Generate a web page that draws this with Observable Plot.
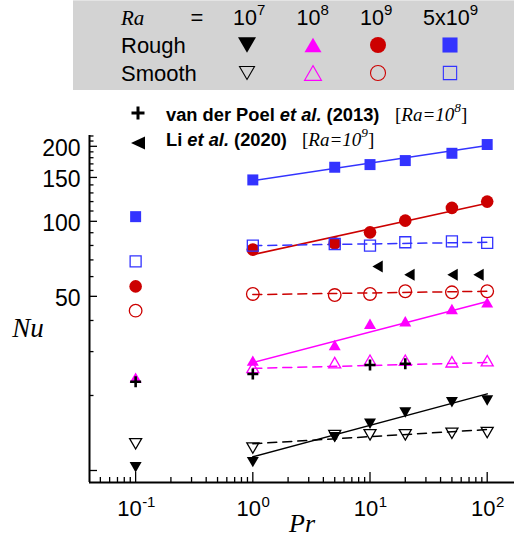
<!DOCTYPE html>
<html><head><meta charset="utf-8">
<script src="https://cdn.jsdelivr.net/npm/d3@7"></script>
<script src="https://cdn.jsdelivr.net/npm/@observablehq/plot@0.6"></script>
<style>
html,body{margin:0;padding:0;background:#fff;}
#wrap{position:relative;width:514px;height:541px;overflow:hidden;}
#wrap svg{position:absolute;left:0;top:0;}
</style></head><body><div id="wrap"></div>
<script>
// ---------------- data ----------------
const prSweep = [1, 5, 10, 20, 50, 100];
const prLow = 0.1;
const raNames = ["1e7", "1e8", "1e9", "5e9"];

const nuRoughRa1e7 = [10.8, 13.6, 15.4, 17.1, 18.8, 19.1];
const nuSmoothRa1e7 = [12.3, 13.8, 13.9, 13.9, 14.1, 14.2];
const nuRoughRa1e8 = [27.6, 31.9, 38.8, 39.7, 44.5, 47.3];
const nuSmoothRa1e8 = [25.9, 27.1, 27.7, 27.7, 27.3, 27.6];
const nuRoughRa1e9 = [77.0, 81.6, 90.3, 100.6, 113.2, 120.0];
const nuSmoothRa1e9 = [51.1, 50.6, 51.1, 52.4, 51.9, 52.4];
const nuRoughRa5e9 = [146.6, 164.8, 168.9, 175.3, 187.5, 203.3];
const nuSmoothRa5e9 = [79.9, 81.1, 79.9, 82.4, 83.1, 81.9];

// Pr = 0.1 points, in Ra order (1e7, 1e8, 1e9, 5e9)
const nuRoughLowPr = [10.3, 23.6, 54.8, 104.4];
const nuSmoothLowPr = [12.8, null, 43.8, 69.1];

// power-law fits, values at Pr = 1 and Pr = 100
const fitPr = [1, 100];
const fitRoughRa1e7 = [11.35, 20.3];
const fitSmoothRa1e7 = [12.8, 14.6];
const fitRoughRa1e8 = [27.1, 47.7];
const fitSmoothRa1e8 = [25.7, 27.1];
const fitRoughRa1e9 = [73.5, 118.1];
const fitSmoothRa1e9 = [50.8, 52.4];
const fitRoughRa5e9 = [145.7, 201.5];
const fitSmoothRa5e9 = [79.9, 82.4];

// literature data
const poelPr = [0.1, 1, 10, 20];
const poelNu = [22.7, 24.4, 26.5, 26.8];
const liPr = [11.6, 21.7, 50.6, 84.3];
const liNu = [65.8, 61.1, 61.1, 61.1];

// ticks
const xMajorTicks = [0.1, 1, 10, 100];
const xExponents = ["-1", "0", "1", "2"];
const xMinorTicks = [0.05,0.06,0.07,0.08,0.09, 0.2,0.3,0.4,0.5,0.6,0.7,0.8,0.9, 2,3,4,5,6,7,8,9, 20,30,40,50,60,70,80,90];
const yLabelTicks = [50, 100, 150, 200];
const yMajorTicks = [10, 50, 100, 150, 200];
const yMinorTicks = [20,30,40,60,70,80,90,110,120,130,140,160,170,180,190,210,220];

// ---------------- styling ----------------
const sans = "'Liberation Sans', Arial, Helvetica, sans-serif";
const serif = "'Liberation Serif', 'Times New Roman', serif";
const colors = {"1e7": "#000000", "1e8": "#ff00ff", "1e9": "#cc0000", "5e9": "#3333ff"};

const S3 = Math.sqrt(3);
function triSym(dir) { // bbox-centred equilateral triangle, half-width r
  return {draw(ctx, size) {
    const r = Math.sqrt(size / Math.PI), s = 2 * r, h = s * S3 / 2;
    if (dir === "up") { ctx.moveTo(0, -h/2); ctx.lineTo(s/2, h/2); ctx.lineTo(-s/2, h/2); }
    else if (dir === "down") { ctx.moveTo(0, h/2); ctx.lineTo(s/2, -h/2); ctx.lineTo(-s/2, -h/2); }
    else { ctx.moveTo(-h/2, 0); ctx.lineTo(h/2, -s/2); ctx.lineTo(h/2, s/2); }
    ctx.closePath();
  }};
}
const plusSym = {draw(ctx, size) { const r = Math.sqrt(size / Math.PI); ctx.moveTo(-r, 0); ctx.lineTo(r, 0); ctx.moveTo(0, -r); ctx.lineTo(0, r); }};
const triDown = triSym("down"), triUp = triSym("up"), triLeft = triSym("left");

const series = [
  {ra: "1e7", rough: nuRoughRa1e7, smooth: nuSmoothRa1e7, fitR: fitRoughRa1e7, fitS: fitSmoothRa1e7, sym: triDown, r: 6},
  {ra: "1e8", rough: nuRoughRa1e8, smooth: nuSmoothRa1e8, fitR: fitRoughRa1e8, fitS: fitSmoothRa1e8, sym: triUp, r: 6},
  {ra: "1e9", rough: nuRoughRa1e9, smooth: nuSmoothRa1e9, fitR: fitRoughRa1e9, fitS: fitSmoothRa1e9, sym: "circle", r: 6.3},
  {ra: "5e9", rough: nuRoughRa5e9, smooth: nuSmoothRa5e9, fitR: fitRoughRa5e9, fitS: fitSmoothRa5e9, sym: "square", r: 6.2}
];

// ---------------- plot ----------------
const W = 514, H = 541, mL = 89, mR = 0, mT = 135, mB = 59;
const plotW = W - mL - mR, plotH = H - mT - mB;
const xDomain = [0.0404, 171], yDomain = [8.95, 221];

const marks = [];
for (const s of series) {
  const c = colors[s.ra];
  marks.push(Plot.line(fitPr.map((p, i) => ({Pr: p, Nu: s.fitR[i]})), {x: "Pr", y: "Nu", stroke: c, strokeWidth: 1.5}));
  marks.push(Plot.line(fitPr.map((p, i) => ({Pr: p, Nu: s.fitS[i]})), {x: "Pr", y: "Nu", stroke: c, strokeWidth: 1.5, strokeDasharray: "9,6"}));
}
series.forEach((s, k) => {
  const c = colors[s.ra];
  const rough = prSweep.map((p, i) => ({Pr: p, Nu: s.rough[i]}));
  rough.push({Pr: prLow, Nu: nuRoughLowPr[k]});
  const smooth = prSweep.map((p, i) => ({Pr: p, Nu: s.smooth[i]}));
  if (nuSmoothLowPr[k] != null) smooth.push({Pr: prLow, Nu: nuSmoothLowPr[k]});
  marks.push(Plot.dot(rough, {x: "Pr", y: "Nu", symbol: s.sym, r: s.r, fill: c}));
  marks.push(Plot.dot(smooth, {x: "Pr", y: "Nu", symbol: s.sym, r: s.r, fill: "none", stroke: c, strokeWidth: 1.3}));
});
marks.push(Plot.dot(poelPr.map((p, i) => ({Pr: p, Nu: poelNu[i]})), {x: "Pr", y: "Nu", symbol: plusSym, r: 5.5, stroke: "black", strokeWidth: 2.6, fill: "none"}));
marks.push(Plot.dot(liPr.map((p, i) => ({Pr: p, Nu: liNu[i]})), {x: "Pr", y: "Nu", symbol: triLeft, r: 6, fill: "black"}));

// axes (inward ticks)
marks.push(Plot.tickY(yMajorTicks, {y: d => d, insetRight: plotW - 8, stroke: "black", strokeWidth: 1.3}));
marks.push(Plot.tickY(yMinorTicks, {y: d => d, insetRight: plotW - 4.5, stroke: "black", strokeWidth: 1.3}));
marks.push(Plot.tickX(xMajorTicks, {x: d => d, insetTop: plotH - 10, stroke: "black", strokeWidth: 1.3}));
marks.push(Plot.tickX(xMinorTicks, {x: d => d, insetTop: plotH - 5, stroke: "black", strokeWidth: 1.3}));
marks.push(Plot.ruleX([xDomain[0]], {stroke: "black", strokeWidth: 2}));
marks.push(Plot.ruleY([yDomain[0]], {stroke: "black", strokeWidth: 2}));
marks.push(Plot.text(yLabelTicks, {y: d => d, text: d => String(d), frameAnchor: "left", textAnchor: "end", dx: -9, dy: 2, fontSize: 23, fontFamily: sans, fill: "black"}));
xMajorTicks.forEach((t, i) => {
  const e = xExponents[i];
  const baseW = 24.5, expW = e.length > 1 ? 12.5 : 8;
  const endOff = (baseW + expW) / 2 - expW;
  marks.push(Plot.text([t], {x: d => d, text: () => "10", frameAnchor: "bottom", lineAnchor: "bottom", textAnchor: "end", dx: endOff, dy: 33, fontSize: 22, fontFamily: sans, fill: "black"}));
  marks.push(Plot.text([t], {x: d => d, text: () => e, frameAnchor: "bottom", lineAnchor: "bottom", textAnchor: "start", dx: endOff + 0.5, dy: 24.5, fontSize: 15, fontFamily: sans, fill: "black"}));
});
marks.push(Plot.text(["Pr"], {text: d => d, frameAnchor: "bottom", lineAnchor: "bottom", dy: 49, fontSize: 26, fontStyle: "italic", fontFamily: serif, fill: "black"}));
marks.push(Plot.text(["Nu"], {text: d => d, frameAnchor: "left", textAnchor: "middle", dx: -61.5, dy: 19, fontSize: 27, fontStyle: "italic", fontFamily: serif, fill: "black"}));

const chart = Plot.plot({
  width: W, height: H,
  marginLeft: mL, marginRight: mR, marginTop: mT, marginBottom: mB,
  x: {type: "log", domain: xDomain, axis: null},
  y: {type: "log", domain: yDomain, axis: null},
  style: {fontFamily: sans, background: "transparent", overflow: "visible"},
  marks
});
document.getElementById("wrap").appendChild(chart);

// ---------------- legends ----------------
const leg = d3.create("svg").attr("width", W).attr("height", 160).style("overflow", "visible");
leg.append("rect").attr("x", 73).attr("y", 0).attr("width", 441).attr("height", 90).attr("fill", "#d3d3d3");
leg.append("line").attr("x1", 73).attr("x2", 514).attr("y1", 0.5).attr("y2", 0.5).attr("stroke", "#e4e4e4");

function addText(x, y, parts, {size = 20, family = sans, weight = "normal", anchor = "start", style = "normal"} = {}) {
  const t = leg.append("text").attr("x", x).attr("y", y).attr("font-size", size).attr("font-family", family)
    .attr("font-weight", weight).attr("font-style", style).attr("text-anchor", anchor).attr("fill", "black");
  let raised = 0;
  for (const p of parts) {
    const ts = t.append("tspan").text(p.t);
    if (p.sup) { ts.attr("dy", -(size * 0.45) - raised).attr("font-size", size * 0.7); raised = size * 0.45; }
    else if (raised) { ts.attr("dy", raised); raised = 0; }
    if (p.italic) ts.attr("font-style", "italic");
    if (p.family) ts.attr("font-family", p.family);
  }
  return t;
}

addText(121, 25, [{t: "Ra"}], {size: 21, family: serif, style: "italic"});
addText(197, 25, [{t: "="}], {size: 22, anchor: "middle"});
const raHeaders = [[{t: "10"}, {t: "7", sup: true}], [{t: "10"}, {t: "8", sup: true}], [{t: "10"}, {t: "9", sup: true}], [{t: "5x10"}, {t: "9", sup: true}]];
const raHeaderX = [233, 296.5, 360, 423];
raHeaders.forEach((p, i) => addText(raHeaderX[i], 25, p, {size: 21.5}));
addText(121, 53, [{t: "Rough"}], {size: 22});
addText(121, 80.5, [{t: "Smooth"}], {size: 22});

const legCols = [247, 313, 378, 450];
const legSyms = [triDown, triUp, d3.symbolCircle, d3.symbolSquare];
const legR = [9, 8.5, 8, 8.5];
const legRSmooth = [7.5, 8.5, 7.5, 7.5];
raNames.forEach((ra, i) => {
  const c = colors[ra];
  leg.append("path").attr("transform", `translate(${legCols[i]},45)`)
    .attr("d", d3.symbol(legSyms[i], Math.PI * legR[i] * legR[i])()).attr("fill", c);
  leg.append("path").attr("transform", `translate(${legCols[i]},73)`)
    .attr("d", d3.symbol(legSyms[i], Math.PI * legRSmooth[i] * legRSmooth[i])()).attr("fill", "none").attr("stroke", c).attr("stroke-width", 1.1);
});

// literature legend
leg.append("path").attr("transform", "translate(138,113)").attr("d", d3.symbol(plusSym, Math.PI * 6.5 * 6.5)())
  .attr("stroke", "black").attr("stroke-width", 3).attr("fill", "none");
leg.append("path").attr("transform", "translate(138,143)").attr("d", "M-7,0L7,-6.5L7,6.5Z").attr("fill", "black");
addText(166, 121, [{t: "van der Poel "}, {t: "et al.", italic: true}, {t: " (2013)"}], {size: 18.3, weight: "bold"});
addText(395, 121, [{t: "["}, {t: "Ra=10", italic: true}, {t: "8", sup: true, italic: true}, {t: "]"}], {size: 19, family: serif});
addText(166, 146, [{t: "Li "}, {t: "et al.", italic: true}, {t: " (2020)"}], {size: 18.3, weight: "bold"});
addText(302, 146, [{t: "["}, {t: "Ra=10", italic: true}, {t: "9", sup: true, italic: true}, {t: "]"}], {size: 19, family: serif});

document.getElementById("wrap").appendChild(leg.node());
</script>
</body></html>
